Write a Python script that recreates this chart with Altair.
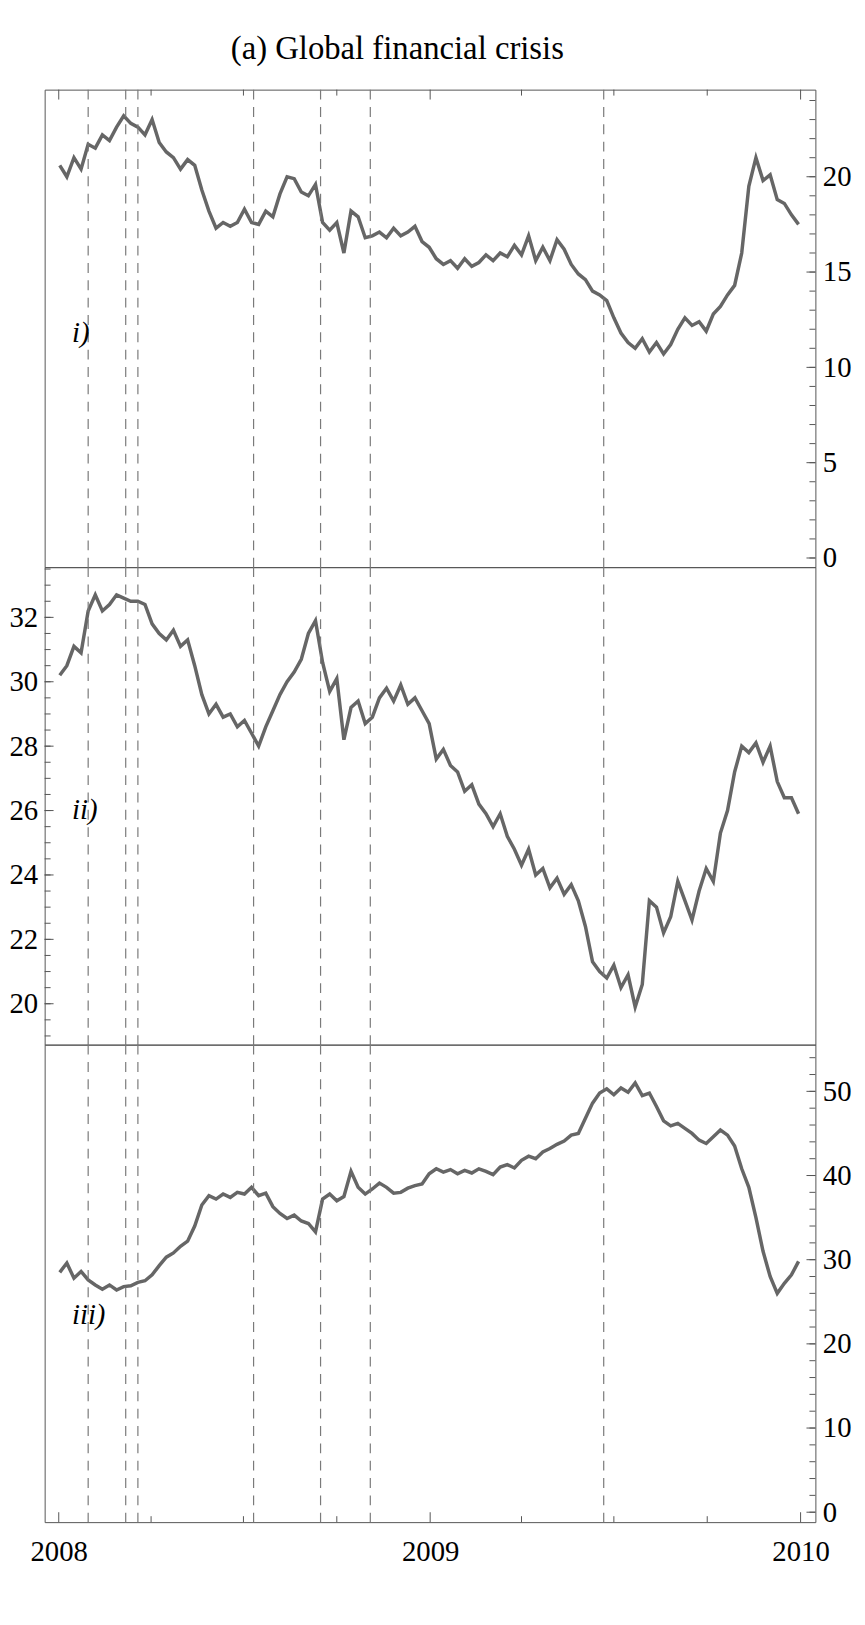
import altair as alt
import pandas as pd

# ---------------- data ----------------
dates = pd.date_range("2008-01-02", periods=105, freq="7D").strftime("%Y-%m-%dT00:00:00").tolist()

series_i = [20.6, 20.0, 21.0, 20.4, 21.7, 21.5, 22.2, 21.9, 22.6, 23.2,
            22.8, 22.6, 22.2, 23.0, 21.8, 21.3, 21.0, 20.4, 20.9, 20.6,
            19.3, 18.2, 17.3, 17.6, 17.4, 17.6, 18.3, 17.6, 17.5, 18.2,
            17.9, 19.1, 20.0, 19.9, 19.2, 19.0, 19.6, 17.6, 17.2,
            17.6, 16.0, 18.2, 17.9, 16.8, 16.9, 17.1, 16.8, 17.3, 16.9,
            17.1, 17.4, 16.6, 16.3, 15.7, 15.4, 15.6, 15.2, 15.7, 15.3,
            15.5, 15.9, 15.6, 16.0, 15.8, 16.4, 15.9, 16.9, 15.6, 16.3,
            15.6, 16.7, 16.2, 15.4, 14.9, 14.6, 14.0, 13.8, 13.5, 12.6,
            11.8, 11.3, 11.0, 11.5, 10.8, 11.3, 10.7, 11.2, 12.0, 12.6,
            12.2, 12.4, 11.9, 12.8, 13.2, 13.8, 14.3, 16.0, 19.5, 21.0,
            19.8, 20.1, 18.8, 18.6, 18.0, 17.5]

series_ii = [30.2, 30.5, 31.1, 30.9, 32.2, 32.7, 32.2, 32.4, 32.7, 32.6,
             32.5, 32.5, 32.4, 31.8, 31.5, 31.3, 31.6, 31.1, 31.3, 30.5,
             29.6, 29.0, 29.3, 28.9, 29.0, 28.6, 28.8, 28.4, 28.0, 28.6,
             29.1, 29.6, 30.0, 30.3, 30.7, 31.5, 31.9, 30.6, 29.7, 30.1,
             28.2, 29.2, 29.4, 28.7, 28.9, 29.5, 29.8, 29.4, 29.9, 29.3,
             29.5, 29.1, 28.7, 27.6, 27.9, 27.4, 27.2, 26.6, 26.8, 26.2,
             25.9, 25.5, 25.9, 25.2, 24.8, 24.3, 24.8, 24.0, 24.2, 23.6,
             23.9, 23.4, 23.7, 23.2, 22.4, 21.3, 21.0, 20.8, 21.2, 20.5,
             20.9, 19.9, 20.6, 23.2, 23.0, 22.2, 22.7, 23.8, 23.2, 22.6,
             23.5, 24.2, 23.8, 25.3, 26.0, 27.2, 28.0, 27.8, 28.1, 27.5,
             28.0, 26.9, 26.4, 26.4, 25.9]

series_iii = [28.5, 29.6, 27.8, 28.6, 27.6, 27.0, 26.5, 27.0, 26.4, 26.8,
              26.9, 27.3, 27.5, 28.2, 29.3, 30.3, 30.8, 31.6, 32.2, 34.0,
              36.5, 37.6, 37.2, 37.8, 37.4, 38.0, 37.8, 38.6, 37.6, 37.9,
              36.3, 35.5, 34.9, 35.3, 34.6, 34.3, 33.3, 37.2, 37.8, 37.0,
              37.5, 40.5, 38.6, 37.8, 38.4, 39.1, 38.6, 37.9, 38.0, 38.5,
              38.8, 39.0, 40.2, 40.8, 40.4, 40.7, 40.2, 40.6, 40.3, 40.8,
              40.5, 40.1, 41.0, 41.3, 40.9, 41.8, 42.3, 42.0, 42.8, 43.2,
              43.7, 44.1, 44.8, 45.0, 46.8, 48.6, 49.8, 50.3, 49.6, 50.4,
              49.9, 51.0, 49.5, 49.8, 48.2, 46.5, 45.9, 46.2, 45.6, 45.0,
              44.2, 43.8, 44.6, 45.4, 44.8, 43.5, 40.8, 38.6, 35.0, 31.0,
              28.0, 26.0, 27.2, 28.2, 29.8]

event_dates = ["2008-01-30T00:00:00", "2008-03-07T00:00:00", "2008-03-19T00:00:00",
               "2008-07-11T00:00:00", "2008-09-15T00:00:00", "2008-11-03T00:00:00",
               "2009-06-21T00:00:00"]

year_ticks = ["2008-01-01T00:00:00", "2009-01-01T00:00:00", "2010-01-01T00:00:00"]
quarter_ticks = ["2008-04-01T00:00:00", "2008-07-01T00:00:00", "2008-10-01T00:00:00",
                 "2009-04-01T00:00:00", "2009-07-01T00:00:00", "2009-10-01T00:00:00"]

panel_labels = ["i)", "ii)", "iii)"]
panel_label_dates = ["2008-01-14T00:00:00"] * 3
panel_label_values = [11.8, 26.0, 23.4]

y_domains = [[-0.48, 24.57], [18.73, 33.56], [-1.18, 55.55]]
y_major = [[0, 5, 10, 15, 20], [20, 22, 24, 26, 28, 30, 32], [0, 10, 20, 30, 40, 50]]
y_minor = [list(range(0, 25)), [19 + 0.5 * i for i in range(30)], list(range(0, 56, 2))]

# ---------------- style ----------------
W, H = 778, 482
FONT = "Liberation Serif"
FRAME = "#555555"
LINE = "#666666"

xscale = alt.Scale(domain=[alt.DateTime(year=2007, month=12, date=18, hours=3),
                           alt.DateTime(year=2010, month=1, date=15, hours=14)])


def panel(idx, values, orient, top_ticks=False, bottom_axis=False):
    ydom = y_domains[idx]
    ysc = alt.Scale(domain=ydom, nice=False, zero=False)
    if bottom_axis:
        xaxis = alt.Axis(values=[alt.DateTime(year=2008, month=1, date=1),
                                 alt.DateTime(year=2009, month=1, date=1),
                                 alt.DateTime(year=2010, month=1, date=1)],
                         format="%Y", ticks=False, domain=False, grid=False,
                         labelFont=FONT, labelFontSize=29, labelColor="black",
                         labelPadding=16, title=None, labelFlush=False)
    else:
        xaxis = None
    yaxis = alt.Axis(orient=orient, values=y_major[idx], format="d", ticks=False,
                     domain=False, grid=False, labelFont=FONT, labelFontSize=29,
                     labelColor="black", labelPadding=7, title=None, labelFlush=False)

    def X(field):
        return alt.X(field, scale=xscale, axis=xaxis)

    def Y(field):
        return alt.Y(field, scale=ysc, axis=yaxis)

    df = pd.DataFrame({"date": dates, "v": values})
    line = alt.Chart(df).mark_line(color=LINE, strokeWidth=3.5).encode(
        x=X("date:T"), y=Y("v:Q"))

    events = alt.Chart(pd.DataFrame({"date": event_dates})).mark_rule(
        color="#7a7a7a", strokeWidth=1.2, strokeDash=[10, 7.5]).encode(
        x=X("date:T"), y=alt.value(0), y2=alt.value(H))

    lab = alt.Chart(pd.DataFrame({"date": [panel_label_dates[idx]],
                                  "v": [panel_label_values[idx]],
                                  "t": [panel_labels[idx]]})).mark_text(
        font=FONT, fontSize=29, fontStyle="italic", align="left", baseline="middle",
        color="black").encode(x=X("date:T"), y=Y("v:Q"), text="t:N")

    def ytick(values, length):
        if orient == "right":
            enc = dict(x=alt.value(W - length), x2=alt.value(W))
        else:
            enc = dict(x=alt.value(0), x2=alt.value(length))
        return alt.Chart(pd.DataFrame({"v": values})).mark_rule(
            color=FRAME, strokeWidth=1).encode(y=Y("v:Q"), **enc)

    def xtick(values, where, length):
        if where == "top":
            enc = dict(y=alt.value(0), y2=alt.value(length))
        else:
            enc = dict(y=alt.value(H - length), y2=alt.value(H))
        return alt.Chart(pd.DataFrame({"date": values})).mark_rule(
            color=FRAME, strokeWidth=1).encode(x=X("date:T"), **enc)

    layers = [line, events, lab, ytick(y_minor[idx], 6), ytick(y_major[idx], 9)]
    if top_ticks:
        layers += [xtick(quarter_ticks, "top", 6), xtick(year_ticks, "top", 10)]
    if bottom_axis:
        layers += [xtick(quarter_ticks, "bottom", 6), xtick(year_ticks, "bottom", 10)]
    return alt.layer(*layers).properties(width=W, height=H)


p1 = panel(0, series_i, "right", top_ticks=True)
p2 = panel(1, series_ii, "left")
p3 = panel(2, series_iii, "right", bottom_axis=True)

chart = alt.vconcat(p1, p2, p3, spacing=0, bounds="flush").properties(
    title=alt.TitleParams("(a) Global financial crisis", font=FONT, fontSize=33,
                          fontWeight="normal", color="black", anchor="middle",
                          dx=-33, offset=23),
    padding={"left": 0, "top": 17, "right": 5, "bottom": 5},
).configure(font=FONT).configure_axis(labelFont=FONT).configure_view(
    stroke=FRAME, strokeWidth=1).configure_concat(spacing=0)

chart.save("out.html", embed_options={"renderer": "svg", "actions": False})
